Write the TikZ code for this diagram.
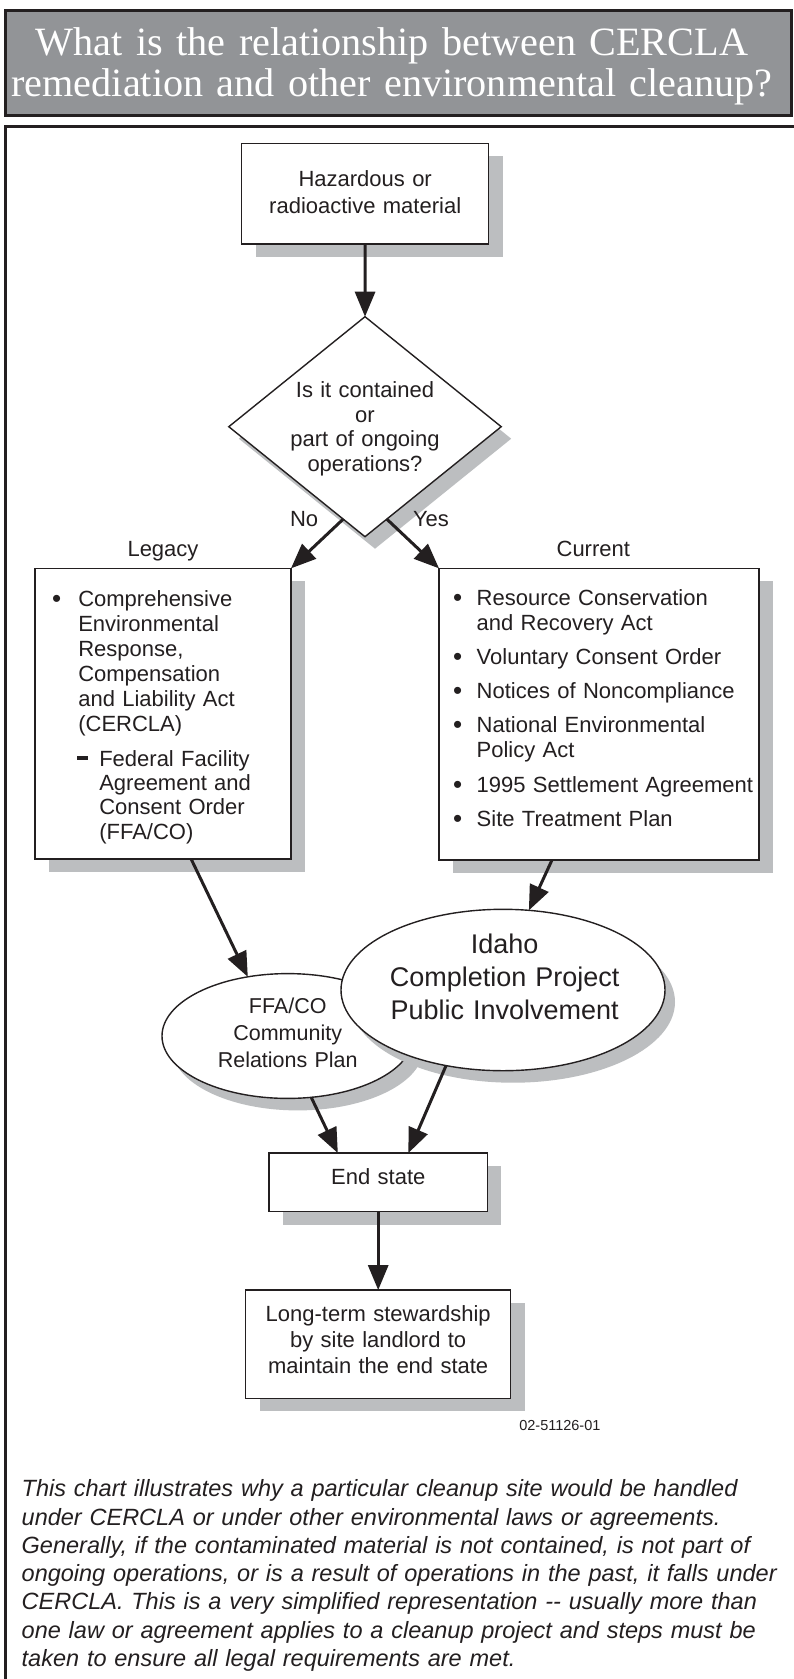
\documentclass[tikz,border=0pt]{standalone}
\usepackage{fontspec}
\setmainfont{Liberation Sans}
\newfontfamily\titlefont{Liberation Serif}
\usetikzlibrary{shapes.geometric,arrows.meta,shadows,calc}
\definecolor{ink}{HTML}{231F20}
\definecolor{shade}{HTML}{BCBEC0}
\definecolor{titlegray}{HTML}{929497}
\newcommand{\bulmark}{\raisebox{-1.3pt}{\fontsize{26}{25}\selectfont•}}
\newcommand{\listentry}[3]{\makebox[#1][l]{#2}\parbox[t]{290pt}{\raggedright #3}}
\begin{document}
\begin{tikzpicture}[x=1pt,y=-1pt,
  every node/.style={text=ink, inner sep=0pt, outer sep=0pt},
  rshadow/.style={drop shadow={shadow xshift=14pt, shadow yshift=-13pt, fill=shade, opacity=1}},
  eshadow/.style={drop shadow={shadow xshift=10pt, shadow yshift=-12pt, fill=shade, opacity=1}},
  flowbox/.style={rectangle, draw=ink, line width=1.4pt, fill=white, rshadow},
  decision/.style={diamond, draw=ink, line width=1.4pt, fill=white, eshadow},
  bubble/.style={ellipse, draw=ink, line width=1.4pt, fill=white, eshadow},
  body/.style={font=\fontsize{22}{25}\selectfont},
  ctext/.style={anchor=base, align=center, text width=#1},
  ltext/.style={anchor=base west, align=left, text width=#1},
  arr/.style={draw=ink, line width=3pt, -{Triangle[length=25pt,width=20pt]}}
]
\fill[white] (0,0) rectangle (793,1679);
\useasboundingbox (0,0) rectangle (793,1679);

% title
\node[rectangle, draw=ink, fill=titlegray, line width=3pt, minimum width=786.5pt, minimum height=105.5pt] (titlebox) at (398.25,62.75) {};
\node[ctext=1000pt, text=white, font=\titlefont\fontsize{40.2}{41.7}\selectfont] (titletext) at (392,55)
  {What is the relationship between CERCLA\\remediation and other environmental cleanup?};

% frame
\draw[ink, line width=3pt] (800,126.7) -- (5,126.7) -- (5,1700);

% shapes
\node[flowbox, minimum width=247pt, minimum height=100.7pt] (top) at (365.2,193.7) {};
\node[ctext=240pt, font=\fontsize{22}{26.7}\selectfont] (toptext) at (365.2,186.5)
  {Hazardous or\\radioactive material};

\node[decision, minimum width=272.4pt, minimum height=220pt] (dia) at (365,426.7) {};
\node[ctext=240pt, font=\fontsize{22}{24.5}\selectfont] (diatext) at (365,397.5)
  {Is it contained\\or\\part of ongoing\\operations?};

\node[body, anchor=base west] (nolabel) at (290,526.7) {No};
\node[body, anchor=base west] (yeslabel) at (413,526.7) {Yes};
\node[body, anchor=base] (legacylabel) at (163,556) {Legacy};
\node[body, anchor=base] (currentlabel) at (593.3,556) {Current};

\node[flowbox, minimum width=256pt, minimum height=290.7pt] (legacy) at (163,713.7) {};
\node[ltext=240pt, body] (cercla) at (52.2,606)
  {\listentry{26.1pt}{\bulmark}{Comprehensive\\Environmental\\Response,\\Compensation\\and Liability Act\\(CERCLA)}};
\node[ltext=220pt, font=\fontsize{22}{24.4}\selectfont] (ffaco) at (77.3,766)
  {\listentry{22pt}{\rule[6.3pt]{11pt}{3.6pt}}{Federal Facility\\Agreement and\\Consent Order\\(FFA/CO)}};

\node[flowbox, minimum width=320pt, minimum height=291.7pt] (current) at (599,714.2) {};
\node[ltext=320pt, body] (rcra) at (453.2,605)
  {\listentry{23.5pt}{\bulmark}{Resource Conservation\\and Recovery Act}};
\node[ltext=320pt, body] (vco) at (453.2,664.5)
  {\listentry{23.5pt}{\bulmark}{Voluntary Consent Order}};
\node[ltext=320pt, body] (nonc) at (453.2,698.5)
  {\listentry{23.5pt}{\bulmark}{Notices of Noncompliance}};
\node[ltext=320pt, body] (nepa) at (453.2,732.5)
  {\listentry{23.5pt}{\bulmark}{National Environmental\\Policy Act}};
\node[ltext=320pt, body] (settle) at (453.2,792.5)
  {\listentry{23.5pt}{\bulmark}{1995 Settlement Agreement}};
\node[ltext=320pt, body] (stp) at (453.2,826)
  {\listentry{23.5pt}{\bulmark}{Site Treatment Plan}};

\node[bubble, minimum width=251.4pt, minimum height=124.8pt] (ffa) at (287.7,1036) {};
\node[ctext=240pt, font=\fontsize{21.5}{27.3}\selectfont] (ffatext) at (287.7,1013)
  {FFA/CO\\Community\\Relations Plan};
\node[bubble, minimum width=324pt, minimum height=161.4pt] (icp) at (503,990) {};
\node[ctext=300pt, font=\fontsize{27}{32.7}\selectfont] (icptext) at (504.7,953.7)
  {Idaho\\Completion Project\\Public Involvement};

\node[flowbox, minimum width=218.3pt, minimum height=58.7pt] (end) at (378.2,1182.4) {};
\node[ctext=200pt, body] (endtext) at (378.3,1184.3) {End state};

\node[flowbox, minimum width=265pt, minimum height=108.3pt] (lts) at (378.2,1344.2) {};
\node[ctext=260pt, font=\fontsize{22}{25.8}\selectfont] (ltstext) at (378.2,1321.7)
  {Long-term stewardship\\by site landlord to\\maintain the end state};

\node[anchor=base west, font=\fontsize{14.5}{16}\selectfont] (figid) at (519.3,1430) {02-51126-01};

\node[ltext=790pt, font=\itshape\fontsize{23.5}{28.3}\selectfont] (caption) at (21.7,1496.7)
  {This chart illustrates why a particular cleanup site would be handled\\
   under CERCLA or under other environmental laws or agreements.\\
   Generally, if the contaminated material is not contained, is not part of\\
   ongoing operations, or is a result of operations in the past, it falls under\\
   CERCLA. This is a very simplified representation -{}- usually more than\\
   one law or agreement applies to a cleanup project and steps must be\\
   taken to ensure all legal requirements are met.};

% connectors
\draw[arr] (top.south) -- (dia.north);
\draw[arr] ($(dia.south)!0.16!(dia.west)$) -- (legacy.north east);
\draw[arr] ($(dia.south)!0.16!(dia.east)$) -- (current.north west);
\draw[arr] ($(legacy.south west)!0.61!(legacy.south east)$) -- (ffa.124);
\draw[arr] ($(current.south west)!0.353!(current.south east)$) -- (icp.72);
\draw[arr] (ffa.291) -- ($(end.north west)!0.315!(end.north east)$);
\draw[arr] (icp.233) -- ($(end.north west)!0.638!(end.north east)$);
\draw[arr] (end.south) -- (lts.north);
\end{tikzpicture}
\end{document}
